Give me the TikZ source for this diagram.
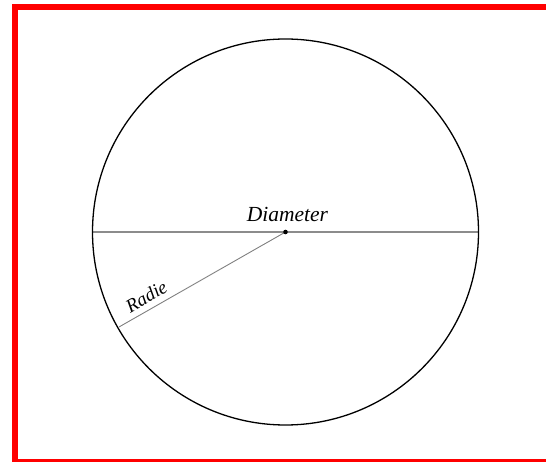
\documentclass[tikz,border=0pt]{standalone}
\usepackage{fontspec}
\setmainfont{Liberation Serif}
\begin{document}
\begin{tikzpicture}[x=1pt,y=-1pt,
  frame/.style={draw=red,line width=6pt},
  rim/.style={draw=black,line width=1.3pt},
  chord/.style={draw=black!45,line width=1.4pt},
  rad/.style={draw=black!50,line width=0.9pt},
  lbl/.style={font=\itshape\fontsize{21.5}{24}\selectfont,inner sep=0pt},
  lbls/.style={font=\itshape\fontsize{19}{22}\selectfont,inner sep=0pt}]
\useasboundingbox (0,0) rectangle (546,462);
\clip (0,0) rectangle (546,462);
\draw[frame] (14.5,7) rectangle (570,462);
\coordinate (c) at (285.5,232);
\coordinate (w) at (92.5,232);
\coordinate (e) at (478.5,232);
\coordinate (r) at (119,327);
\draw[chord] (w) -- (e);
\draw[rad] (c) -- (r);
\draw[rim] (c) circle[radius=193];
\fill (c) circle[radius=2.3];
\node[lbl,anchor=base] (dl) at (287.5,221.7) {Diameter};
\node[lbls,anchor=base,rotate=30] (rl) at (149.5,302) {Radie};
\end{tikzpicture}
\end{document}
